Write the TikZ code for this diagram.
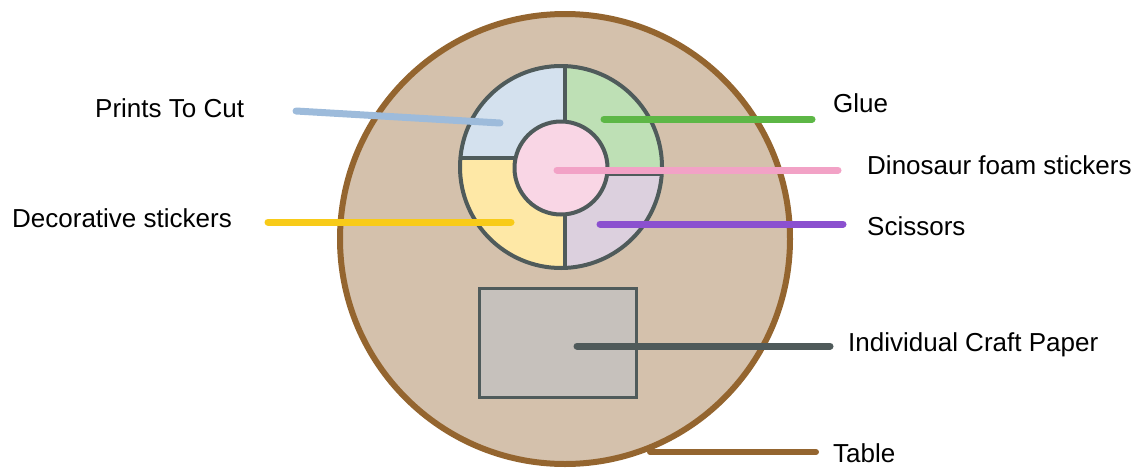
\documentclass[tikz,border=0pt]{standalone}
\usepackage{fontspec}
\setmainfont{Liberation Sans}
\definecolor{tablefill}{HTML}{D4C1AC}
\definecolor{tablestroke}{HTML}{94652F}
\definecolor{ringstroke}{HTML}{4F5B5B}
\definecolor{qtl}{HTML}{D4E1EE}
\definecolor{qtr}{HTML}{BEE0B5}
\definecolor{qbl}{HTML}{FEE8A6}
\definecolor{qbr}{HTML}{DCD0DE}
\definecolor{qc}{HTML}{F9D6E5}
\definecolor{paperfill}{HTML}{C6C1BC}
\definecolor{cprints}{HTML}{9DBBDB}
\definecolor{cglue}{HTML}{5DB746}
\definecolor{cdino}{HTML}{F2A2C6}
\definecolor{cdeco}{HTML}{F8CB18}
\definecolor{cscis}{HTML}{8B50CF}
\definecolor{cpaper}{HTML}{4F5A5A}
\begin{document}
\begin{tikzpicture}[x=1pt,y=-1pt,
  lbl/.style={anchor=base west,inner sep=0pt,font=\fontsize{26}{30}\selectfont},
  leader/.style={line width=7pt,line cap=round},
  ringline/.style={draw=ringstroke,line width=4pt}]
\useasboundingbox (0,0) rectangle (1140,469);
% table
\node[circle,draw=tablestroke,fill=tablefill,line width=6pt,minimum size=450pt,inner sep=0pt] (table) at (565,239) {};
% quadrants
\coordinate (rc) at (561,167);
\begin{scope}
  \clip (rc) circle[radius=101];
  \fill[qtl] (455,60) rectangle (565,158);
  \fill[qtr] (565,60) rectangle (667,174);
  \fill[qbl] (455,158) rectangle (565,275);
  \fill[qbr] (565,174) rectangle (667,275);
\end{scope}
\node[circle,ringline,minimum size=202pt,inner sep=0pt] (ring) at (rc) {};
\draw[ringline] (565,66) -- (565,268);
\draw[ringline] (460,158) -- (561,158);
\draw[ringline] (561,174) -- (661,174);
\node[circle,ringline,fill=qc,minimum size=93pt,inner sep=0pt] (center) at (561,168) {};
% paper
\node[draw=ringstroke,fill=paperfill,line width=3pt,minimum width=157pt,minimum height=109pt,inner sep=0pt] (paper) at (557.5,342.5) {};
% labels
\node[lbl] (tPrints) at (95,117) {Prints To Cut};
\node[lbl] (tDeco) at (12,227) {Decorative stickers};
\node[lbl] (tGlue) at (833,112) {Glue};
\node[lbl] (tDino) at (867,174) {Dinosaur foam stickers};
\node[lbl] (tScis) at (867,235) {Scissors};
\node[lbl] (tPaper) at (848,351) {Individual Craft Paper};
\node[lbl] (tTable) at (833,462) {Table};
% leader ends
\coordinate (aPrints) at (296,111); \coordinate (bPrints) at (500,123);
\coordinate (aDeco) at (268,222); \coordinate (bDeco) at (511,222);
\coordinate (aGlue) at (604,119); \coordinate (bGlue) at (812,119);
\coordinate (aDino) at (557,170); \coordinate (bDino) at (838,170);
\coordinate (aScis) at (600,224); \coordinate (bScis) at (843,224);
\coordinate (aPaper) at (577,346); \coordinate (bPaper) at (830,346);
\coordinate (aTable) at (650,452); \coordinate (bTable) at (816,452);
\draw[leader,cprints] (aPrints) -- (bPrints);
\draw[leader,cdeco] (aDeco) -- (bDeco);
\draw[leader,cglue] (aGlue) -- (bGlue);
\draw[leader,cdino] (aDino) -- (bDino);
\draw[leader,cscis] (aScis) -- (bScis);
\draw[leader,cpaper] (aPaper) -- (bPaper);
\draw[line width=6pt,line cap=round,tablestroke] (aTable) -- (bTable);
\end{tikzpicture}
\end{document}
